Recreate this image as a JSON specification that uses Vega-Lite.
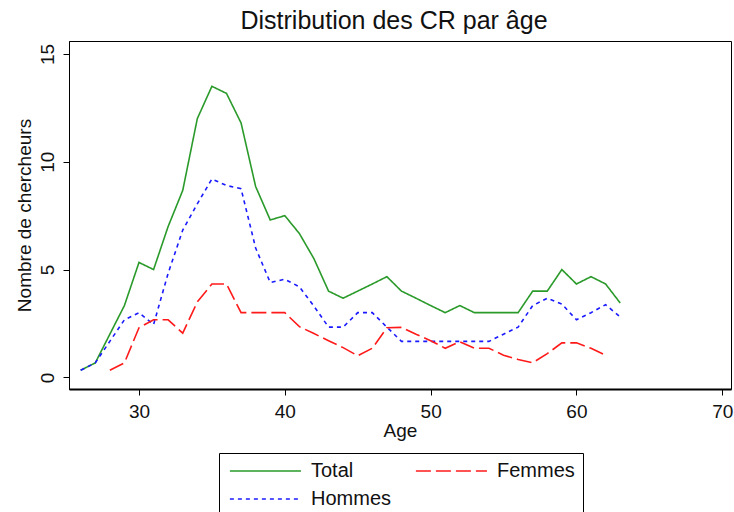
{
  "$schema": "https://vega.github.io/schema/vega-lite/v6.json",
  "width": 662,
  "height": 348,
  "autosize": {"type": "none"},
  "padding": {"left": 69, "top": 41, "right": 3, "bottom": 123},
  "background": "white",
  "config": {
    "view": {"stroke": "black", "strokeWidth": 1},
    "font": "Liberation Sans",
    "axis": {"grid": false, "labelFont": "Liberation Sans", "titleFont": "Liberation Sans", "labelColor": "#111", "titleColor": "#111", "labelFontSize": 19, "titleFontSize": 19, "titleFontWeight": "normal", "tickColor": "black", "domainColor": "black", "tickSize": 6}
  },
  "title": {"text": "Distribution des CR par âge", "fontSize": 25, "fontWeight": "normal", "font": "Liberation Sans", "color": "#111", "anchor": "middle", "offset": 7, "dx": -6},
  "data": {"values": [
    {"age": 26, "serie": "Total", "n": 0.33},
    {"age": 27, "serie": "Total", "n": 0.67},
    {"age": 28, "serie": "Total", "n": 2.0},
    {"age": 29, "serie": "Total", "n": 3.33},
    {"age": 30, "serie": "Total", "n": 5.33},
    {"age": 31, "serie": "Total", "n": 5.0},
    {"age": 32, "serie": "Total", "n": 7.0},
    {"age": 33, "serie": "Total", "n": 8.67},
    {"age": 34, "serie": "Total", "n": 12.0},
    {"age": 35, "serie": "Total", "n": 13.5},
    {"age": 36, "serie": "Total", "n": 13.17},
    {"age": 37, "serie": "Total", "n": 11.8},
    {"age": 38, "serie": "Total", "n": 8.85},
    {"age": 39, "serie": "Total", "n": 7.3},
    {"age": 40, "serie": "Total", "n": 7.5},
    {"age": 41, "serie": "Total", "n": 6.67},
    {"age": 42, "serie": "Total", "n": 5.5},
    {"age": 43, "serie": "Total", "n": 4.0},
    {"age": 44, "serie": "Total", "n": 3.67},
    {"age": 45, "serie": "Total", "n": 4.0},
    {"age": 46, "serie": "Total", "n": 4.33},
    {"age": 47, "serie": "Total", "n": 4.67},
    {"age": 48, "serie": "Total", "n": 4.0},
    {"age": 49, "serie": "Total", "n": 3.67},
    {"age": 50, "serie": "Total", "n": 3.33},
    {"age": 51, "serie": "Total", "n": 3.0},
    {"age": 52, "serie": "Total", "n": 3.33},
    {"age": 53, "serie": "Total", "n": 3.0},
    {"age": 54, "serie": "Total", "n": 3.0},
    {"age": 55, "serie": "Total", "n": 3.0},
    {"age": 56, "serie": "Total", "n": 3.0},
    {"age": 57, "serie": "Total", "n": 4.0},
    {"age": 58, "serie": "Total", "n": 4.0},
    {"age": 59, "serie": "Total", "n": 5.0},
    {"age": 60, "serie": "Total", "n": 4.33},
    {"age": 61, "serie": "Total", "n": 4.67},
    {"age": 62, "serie": "Total", "n": 4.33},
    {"age": 63, "serie": "Total", "n": 3.45},
    {"age": 26, "serie": "Hommes", "n": 0.33},
    {"age": 27, "serie": "Hommes", "n": 0.67},
    {"age": 28, "serie": "Hommes", "n": 1.67},
    {"age": 29, "serie": "Hommes", "n": 2.67},
    {"age": 30, "serie": "Hommes", "n": 3.0},
    {"age": 31, "serie": "Hommes", "n": 2.45},
    {"age": 32, "serie": "Hommes", "n": 4.83},
    {"age": 33, "serie": "Hommes", "n": 6.83},
    {"age": 34, "serie": "Hommes", "n": 8.05},
    {"age": 35, "serie": "Hommes", "n": 9.2},
    {"age": 36, "serie": "Hommes", "n": 8.9},
    {"age": 37, "serie": "Hommes", "n": 8.75},
    {"age": 38, "serie": "Hommes", "n": 6.0},
    {"age": 39, "serie": "Hommes", "n": 4.4},
    {"age": 40, "serie": "Hommes", "n": 4.55},
    {"age": 41, "serie": "Hommes", "n": 4.2},
    {"age": 42, "serie": "Hommes", "n": 3.3},
    {"age": 43, "serie": "Hommes", "n": 2.33},
    {"age": 44, "serie": "Hommes", "n": 2.33},
    {"age": 45, "serie": "Hommes", "n": 3.0},
    {"age": 46, "serie": "Hommes", "n": 3.0},
    {"age": 47, "serie": "Hommes", "n": 2.33},
    {"age": 48, "serie": "Hommes", "n": 1.67},
    {"age": 49, "serie": "Hommes", "n": 1.67},
    {"age": 50, "serie": "Hommes", "n": 1.67},
    {"age": 51, "serie": "Hommes", "n": 1.67},
    {"age": 52, "serie": "Hommes", "n": 1.67},
    {"age": 53, "serie": "Hommes", "n": 1.67},
    {"age": 54, "serie": "Hommes", "n": 1.67},
    {"age": 55, "serie": "Hommes", "n": 2.0},
    {"age": 56, "serie": "Hommes", "n": 2.33},
    {"age": 57, "serie": "Hommes", "n": 3.33},
    {"age": 58, "serie": "Hommes", "n": 3.67},
    {"age": 59, "serie": "Hommes", "n": 3.4},
    {"age": 60, "serie": "Hommes", "n": 2.67},
    {"age": 61, "serie": "Hommes", "n": 3.0},
    {"age": 62, "serie": "Hommes", "n": 3.37},
    {"age": 63, "serie": "Hommes", "n": 2.8},
    {"age": 28, "serie": "Femmes", "n": 0.33},
    {"age": 29, "serie": "Femmes", "n": 0.67},
    {"age": 30, "serie": "Femmes", "n": 2.3},
    {"age": 31, "serie": "Femmes", "n": 2.67},
    {"age": 32, "serie": "Femmes", "n": 2.67},
    {"age": 33, "serie": "Femmes", "n": 2.05},
    {"age": 34, "serie": "Femmes", "n": 3.5},
    {"age": 35, "serie": "Femmes", "n": 4.33},
    {"age": 36, "serie": "Femmes", "n": 4.33},
    {"age": 37, "serie": "Femmes", "n": 3.0},
    {"age": 38, "serie": "Femmes", "n": 3.0},
    {"age": 39, "serie": "Femmes", "n": 3.0},
    {"age": 40, "serie": "Femmes", "n": 3.0},
    {"age": 41, "serie": "Femmes", "n": 2.35},
    {"age": 42, "serie": "Femmes", "n": 2.03},
    {"age": 43, "serie": "Femmes", "n": 1.7},
    {"age": 44, "serie": "Femmes", "n": 1.38},
    {"age": 45, "serie": "Femmes", "n": 1.0},
    {"age": 46, "serie": "Femmes", "n": 1.35},
    {"age": 47, "serie": "Femmes", "n": 2.3},
    {"age": 48, "serie": "Femmes", "n": 2.32},
    {"age": 49, "serie": "Femmes", "n": 2.0},
    {"age": 50, "serie": "Femmes", "n": 1.7},
    {"age": 51, "serie": "Femmes", "n": 1.35},
    {"age": 52, "serie": "Femmes", "n": 1.65},
    {"age": 53, "serie": "Femmes", "n": 1.35},
    {"age": 54, "serie": "Femmes", "n": 1.35},
    {"age": 55, "serie": "Femmes", "n": 1.03},
    {"age": 56, "serie": "Femmes", "n": 0.83},
    {"age": 57, "serie": "Femmes", "n": 0.68},
    {"age": 58, "serie": "Femmes", "n": 1.1},
    {"age": 59, "serie": "Femmes", "n": 1.6},
    {"age": 60, "serie": "Femmes", "n": 1.6},
    {"age": 61, "serie": "Femmes", "n": 1.35},
    {"age": 62, "serie": "Femmes", "n": 1.03}
  ]},
  "mark": {"type": "line", "strokeWidth": 1.6},
  "encoding": {
    "x": {
      "field": "age", "type": "quantitative",
      "scale": {"domain": [25.2, 70.6], "nice": false, "zero": false},
      "axis": {"values": [30, 40, 50, 60, 70], "title": "Age", "domainWidth": 2, "labelPadding": 7, "titlePadding": 0, "labelFlush": false}
    },
    "y": {
      "field": "n", "type": "quantitative",
      "scale": {"domain": [-0.54, 15.6], "nice": false, "zero": false},
      "axis": {"values": [0, 5, 10, 15], "title": "Nombre de chercheurs", "labelAngle": 270, "labelAlign": "center", "labelBaseline": "bottom", "labelPadding": 6, "titlePadding": 4, "labelFlush": false}
    },
    "color": {
      "field": "serie", "type": "nominal",
      "scale": {"domain": ["Total", "Hommes", "Femmes"], "range": ["#2a9a2a", "#1a1aff", "#ff1a1a"]},
      "legend": {"orient": "none", "legendX": 150, "legendY": 412, "columns": 2, "title": null, "symbolType": "M-1,0H9", "symbolSize": 202, "symbolStrokeWidth": 1.6, "symbolFillColor": "transparent", "labelFontSize": 20, "labelFont": "Liberation Sans", "labelColor": "#111", "labelOffset": 64, "columnPadding": 20, "rowPadding": 8, "padding": 8, "strokeColor": "black", "fillColor": "white"}
    },
    "strokeDash": {
      "field": "serie", "type": "nominal",
      "scale": {"domain": ["Total", "Hommes", "Femmes"], "range": [[1, 0], [4, 4], [15, 5]]},
      "legend": {"orient": "none", "legendX": 150, "legendY": 412, "columns": 2, "title": null, "symbolType": "M-1,0H9", "symbolSize": 202, "symbolStrokeWidth": 1.6, "symbolFillColor": "transparent", "labelFontSize": 20, "labelFont": "Liberation Sans", "labelColor": "#111", "labelOffset": 64, "columnPadding": 20, "rowPadding": 8, "padding": 8, "strokeColor": "black", "fillColor": "white"}
    }
  }
}
